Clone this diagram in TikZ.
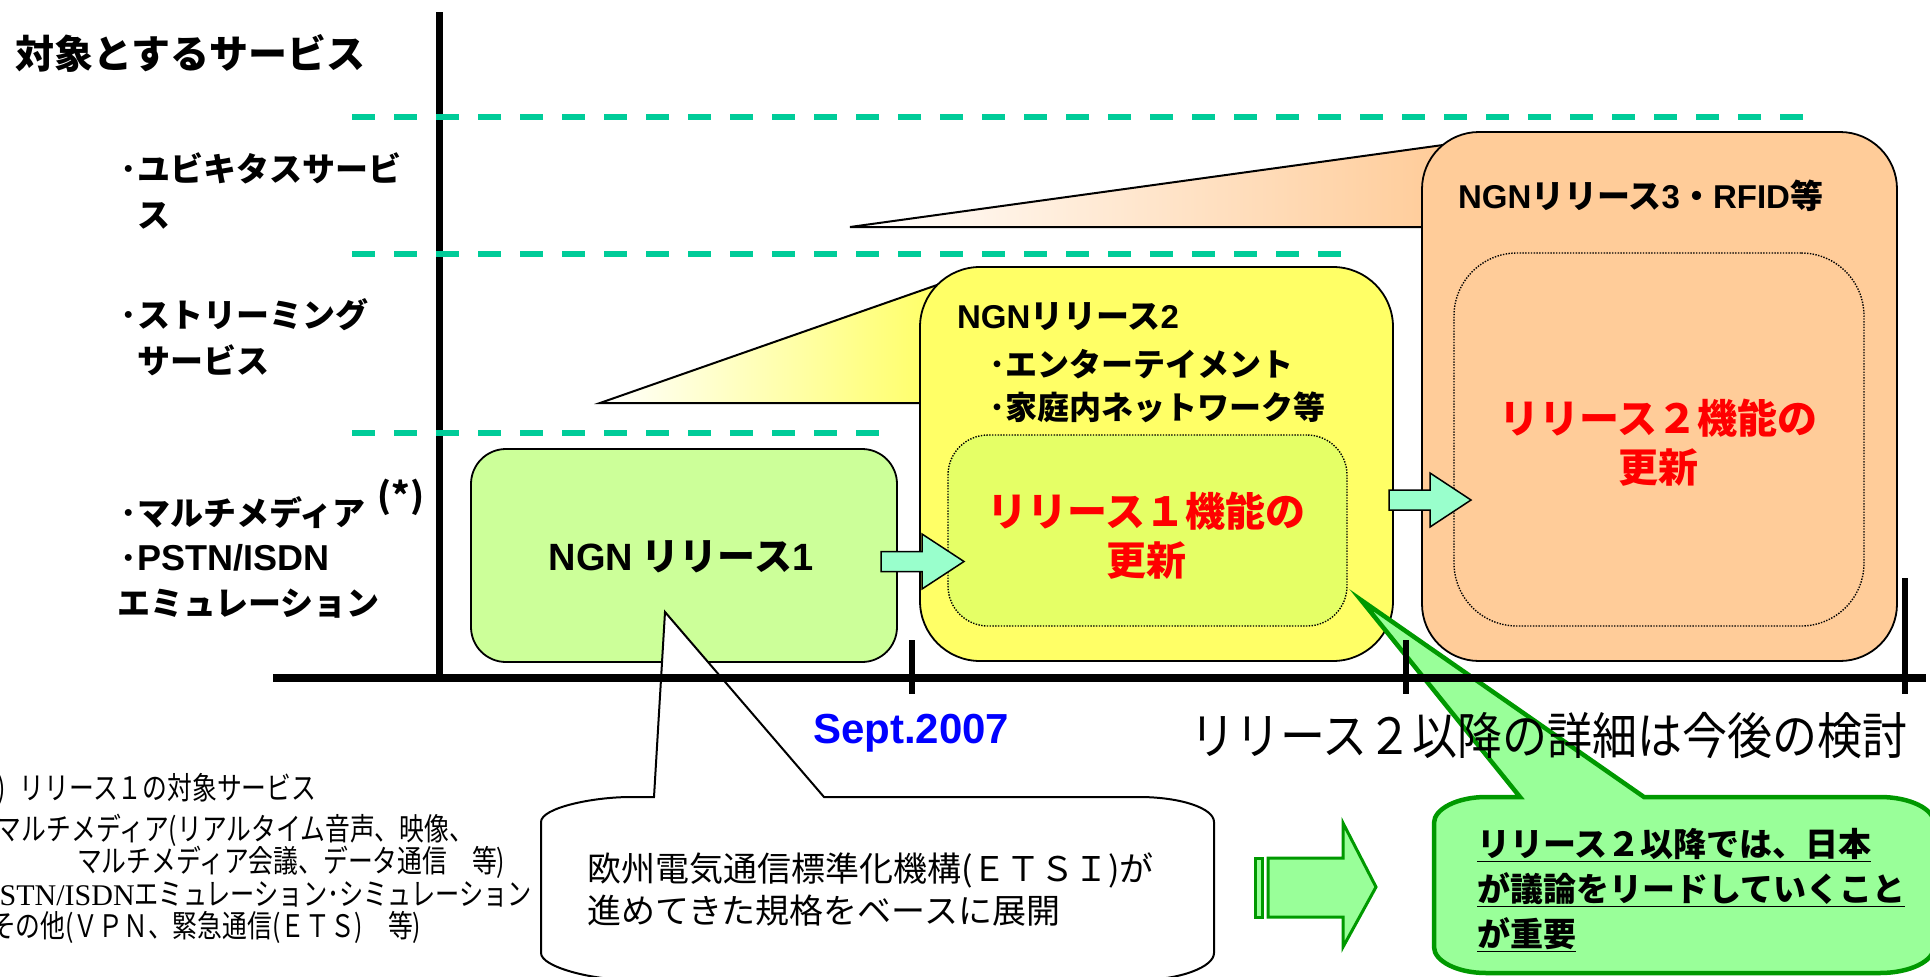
\documentclass[tikz,border=0pt]{standalone}
\usepackage{fontspec}
\setmainfont{Noto Sans CJK JP}
\newfontfamily\jpc{Noto Sans CJK JP}[FakeStretch=0.80]
\newfontfamily\jpd{Noto Sans CJK JP}[FakeStretch=0.78]
\newfontfamily\jpn{Noto Sans CJK JP}[FakeStretch=0.90]
\newfontfamily\arial{Liberation Sans}
\newfontfamily\tnr{Liberation Serif}
\newcommand{\setfs}[2]{\fontsize{#1}{#2}\selectfont}
\definecolor{dashteal}{RGB}{0,204,153}
\definecolor{boxgreen}{RGB}{204,255,153}
\definecolor{boxyellow}{RGB}{255,255,102}
\definecolor{innerlime}{RGB}{229,255,102}
\definecolor{boxpeach}{RGB}{255,204,153}
\definecolor{mint}{RGB}{153,255,204}
\definecolor{callgreen}{RGB}{153,255,153}
\definecolor{callborder}{RGB}{0,153,0}
\begin{document}
\begin{tikzpicture}[x=1pt,y=-1pt,
  every node/.style={inner sep=0pt,outer sep=0pt},
  dashline/.style={draw=dashteal,line width=6pt,dash pattern=on 23pt off 19pt},
  boxline/.style={draw=black,line width=1.8pt},
  innerbox/.style={draw=black,line width=1.4pt,dash pattern=on 1.4pt off 1.4pt},
  blockarrow/.style={draw=black,line width=1.5pt,fill=mint},
  label/.style={anchor=west,align=left,font=\bfseries\setfs{33}{46}},
  redtext/.style={align=center,text=red,font=\bfseries\setfs{40}{49}},
  listtext/.style={font=\jpc\setfs{31}{34}}]
\useasboundingbox (0,0) rectangle (1930,977);

% gradient wedges
\shadedraw[left color=white,right color=boxpeach,draw=black,line width=2pt]
  (850,227) -- (1443,145) -- (1443,227) -- cycle;
\shadedraw[left color=white,right color=boxyellow,draw=black,line width=2pt]
  (600,403) -- (937,285) -- (937,403) -- cycle;

% release boxes
\node[boxline,fill=boxgreen,rounded corners=35pt,minimum width=426pt,minimum height=213pt] (r1) at (684,555.5) {};
\node[font=\bfseries\setfs{38}{44}] (r1t) at (681,557) {{\arial NGN} リリース{\arial 1}};

\node[boxline,fill=boxyellow,rounded corners=60pt,minimum width=473pt,minimum height=394pt] (r2) at (1156.5,464) {};
\node[innerbox,fill=innerlime,rounded corners=40pt,minimum width=399pt,minimum height=191pt] (r2in) at (1147.5,530.5) {};
\node[anchor=west,font=\bfseries\setfs{33}{40}] (r2t) at (957,317) {{\arial NGN}リリース{\arial 2}};
\node[anchor=west,align=left,font=\bfseries\setfs{32}{43}] (r2items) at (989,386.5) {･エンターテイメント\\･家庭内ネットワーク等};
\node[redtext] (r2red) at (1146,535.5) {リリース１機能の\\更新};

\node[boxline,fill=boxpeach,rounded corners=57pt,minimum width=475pt,minimum height=529pt] (r3) at (1659.5,396.5) {};
\node[innerbox,rounded corners=63pt,minimum width=410pt,minimum height=373pt] (r3in) at (1659,439.5) {};
\node[anchor=west,font=\bfseries\setfs{33}{40}] (r3t) at (1458,196) {{\arial NGN}リリース{\arial 3}・{\arial RFID}等};
\node[redtext] (r3red) at (1658,443) {リリース２機能の\\更新};

% block arrows between boxes
\draw[blockarrow] (881,551.5) -- (922,551.5) -- (922,534) -- (964,561.5) -- (922,589) -- (922,571.5) -- (881,571.5) -- cycle;
\draw[blockarrow] (1389,490) -- (1430,490) -- (1430,473) -- (1471,500) -- (1430,527) -- (1430,510) -- (1389,510) -- cycle;

% ETSI callout
\draw[draw=black,line width=2pt,fill=white]
  (654,797) -- (665,612) -- (824,797) -- (1139,797)
  .. controls (1180,797) and (1214,808) .. (1214,822) -- (1214,953)
  .. controls (1214,967) and (1180,980) .. (1139,980) -- (631,980)
  .. controls (592,980) and (541,967) .. (541,953) -- (541,822)
  .. controls (541,808) and (592,797) .. (631,797) -- cycle;
\node[anchor=west,align=left,font=\setfs{34}{42}] (etsit) at (587,889) {欧州電気通信標準化機構(ＥＴＳＩ)が\\進めてきた規格をベースに展開};

% green callout
\draw[draw=callborder,line width=4.5pt,fill=callgreen]
  (1520,797) -- (1361,600) -- (1644,797) -- (1880,797)
  .. controls (1910,797) and (1934,809) .. (1934,823) -- (1934,947)
  .. controls (1934,961) and (1910,973) .. (1880,973) -- (1486,973)
  .. controls (1457,973) and (1434,961) .. (1434,947) -- (1434,823)
  .. controls (1434,809) and (1457,797) .. (1486,797) -- cycle;
\node[anchor=west,align=left,font=\bfseries\setfs{33}{45}] (greent) at (1477,890) {\underline{リリース２以降では、日本}\\\underline{が議論をリードしていくこと}\\\underline{が重要}};

% striped arrow
\draw[draw=callborder,line width=3pt,fill=callgreen] (1255,858) rectangle (1262,917);
\draw[draw=callborder,line width=3pt,fill=callgreen]
  (1268,858) -- (1343,858) -- (1343,823) -- (1376,887) -- (1343,947) -- (1343,917) -- (1268,917) -- cycle;

% axes
\draw[line width=7pt] (439,12) -- (439,681);
\draw[line width=8pt] (273,678) -- (1926,678);
\draw[line width=6pt] (912,640) -- (912,694);
\draw[line width=6pt] (1406,640) -- (1406,694);
\draw[line width=6pt] (1905,578) -- (1905,694);

% service band separators
\draw[dashline] (352,117) -- (1803,117);
\draw[dashline] (352,254) -- (1341,254);
\draw[dashline] (352,433) -- (880,433);

% left labels
\node[anchor=west,font=\bfseries\setfs{39}{47}] (title) at (16,53) {対象とするサービス};
\node[label] (ubiq) at (137,191) {\llap{･}ユビキタスサービ\\ス};
\node[label] (stream) at (137,337) {\llap{･}ストリーミング\\サービス};
\node[label,font=\bfseries\setfs{33}{45}] (mm) at (137,557) {\llap{･}マルチメディア\\\llap{･}{\arial\setfs{36}{45}PSTN/ISDN}\\\hspace*{-20pt}エミュレーション};
\node[font=\bfseries\setfs{35}{40}] (star) at (401,497) {(*)};

% timeline labels
\node[anchor=base west,font=\arial\bfseries\setfs{42}{48},text=blue] (sept) at (813,743) {Sept.2007};
\node[anchor=west,font=\jpn\setfs{50}{56}] (future) at (1190,736) {リリース２以降の詳細は今後の検討};

% footnote list
\node[listtext,anchor=west] (n1) at (20,789) {\llap{(*)\hspace{14pt}}リリース１の対象サービス};
\node[listtext,anchor=west] (n2) at (-3,830) {\llap{･}マルチメディア(リアルタイム音声、映像、};
\node[listtext,anchor=west] (n3) at (77,862) {マルチメディア会議、データ通信　等)};
\node[listtext,font=\jpd\setfs{31}{34},anchor=west] (n4) at (-17,894) {\llap{･}{\tnr\setfs{30}{34}PSTN/ISDN}エミュレーション･シミュレーション};
\node[listtext,anchor=west] (n5) at (-9,927) {その他(ＶＰＮ、緊急通信(ＥＴＳ)　等)};
\end{tikzpicture}
\end{document}
